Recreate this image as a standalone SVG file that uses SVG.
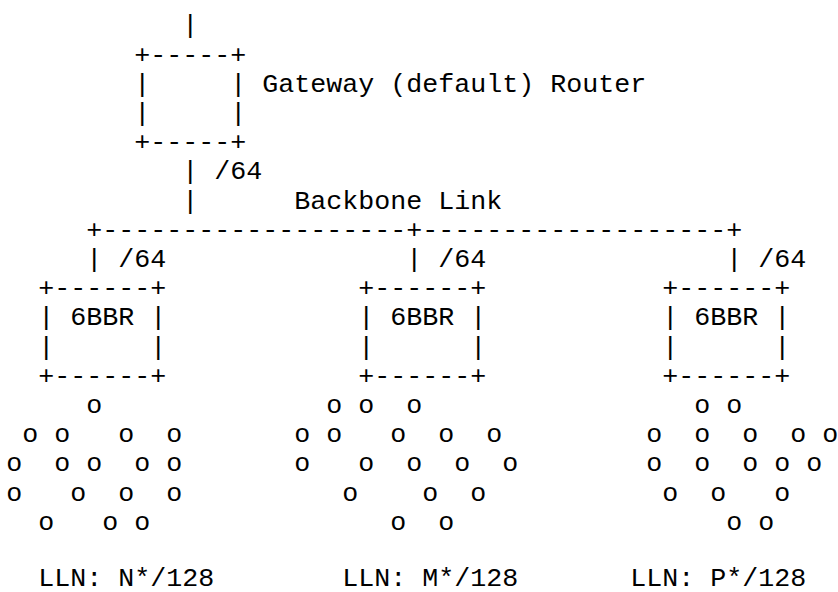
<svg xmlns="http://www.w3.org/2000/svg" width="838" height="592" viewBox="0 0 838 592">
<style>
text{font-family:"Liberation Mono","Courier New","DejaVu Sans Mono",monospace;font-size:26.67px;fill:#000;white-space:pre}
</style>
<rect width="838" height="592" fill="#fff"/>
<g id="gateway">
<text x="182.3" y="33.3">|</text>
<text x="134.3" y="62.5">+-----+</text>
<text x="134.3" y="91.7">|</text><text x="230.3" y="91.7">|</text>
<text x="262.3" y="91.7">Gateway (default) Router</text>
<text x="134.3" y="120.9">|</text><text x="230.3" y="120.9">|</text>
<text x="134.3" y="150.1">+-----+</text>
</g>
<g id="connectors">
<text x="182.3" y="179.3">|</text><text x="214.3" y="179.3">/64</text>
<text x="182.3" y="208.5">|</text>
<text x="294.3" y="208.5">Backbone Link</text>
<text x="86.3" y="237.7">+-------------------+-------------------+</text>
<text x="86.3" y="266.9">|</text><text x="118.3" y="266.9">/64</text>
<text x="406.3" y="266.9">|</text><text x="438.3" y="266.9">/64</text>
<text x="726.3" y="266.9">|</text><text x="758.3" y="266.9">/64</text>
</g>
<g id="bbr1">
<text x="38.3" y="296.1">+------+</text>
<text x="38.3" y="325.3">|</text><text x="70.3" y="325.3">6BBR</text><text x="150.3" y="325.3">|</text>
<text x="38.3" y="354.5">|</text><text x="150.3" y="354.5">|</text>
<text x="38.3" y="383.7">+------+</text>
</g>
<g id="bbr2">
<text x="358.3" y="296.1">+------+</text>
<text x="358.3" y="325.3">|</text><text x="390.3" y="325.3">6BBR</text><text x="470.3" y="325.3">|</text>
<text x="358.3" y="354.5">|</text><text x="470.3" y="354.5">|</text>
<text x="358.3" y="383.7">+------+</text>
</g>
<g id="bbr3">
<text x="662.3" y="296.1">+------+</text>
<text x="662.3" y="325.3">|</text><text x="694.3" y="325.3">6BBR</text><text x="774.3" y="325.3">|</text>
<text x="662.3" y="354.5">|</text><text x="774.3" y="354.5">|</text>
<text x="662.3" y="383.7">+------+</text>
</g>
<g id="lln1">
<text x="86.3" y="412.9">o</text>
<text x="22.3 54.3 118.3 166.3" y="442.1">oooo</text>
<text x="6.3 54.3 86.3 134.3 166.3" y="471.3">ooooo</text>
<text x="6.3 70.3 118.3 166.3" y="500.5">oooo</text>
<text x="38.3 102.3 134.3" y="529.7">ooo</text>
<text x="38.3" y="585.5">LLN: N*/128</text>
</g>
<g id="lln2">
<text x="326.3 358.3 406.3" y="412.9">ooo</text>
<text x="294.3 326.3 390.3 438.3 486.3" y="442.1">ooooo</text>
<text x="294.3 358.3 406.3 454.3 502.3" y="471.3">ooooo</text>
<text x="342.3 422.3 470.3" y="500.5">ooo</text>
<text x="390.3 438.3" y="529.7">oo</text>
<text x="342.3" y="585.5">LLN: M*/128</text>
</g>
<g id="lln3">
<text x="694.3 726.3" y="412.9">oo</text>
<text x="646.3 694.3 742.3 790.3 822.3" y="442.1">ooooo</text>
<text x="646.3 694.3 742.3 774.3 806.3" y="471.3">ooooo</text>
<text x="662.3 710.3 774.3" y="500.5">ooo</text>
<text x="726.3 758.3" y="529.7">oo</text>
<text x="630.3" y="585.5">LLN: P*/128</text>
</g>
</svg>
